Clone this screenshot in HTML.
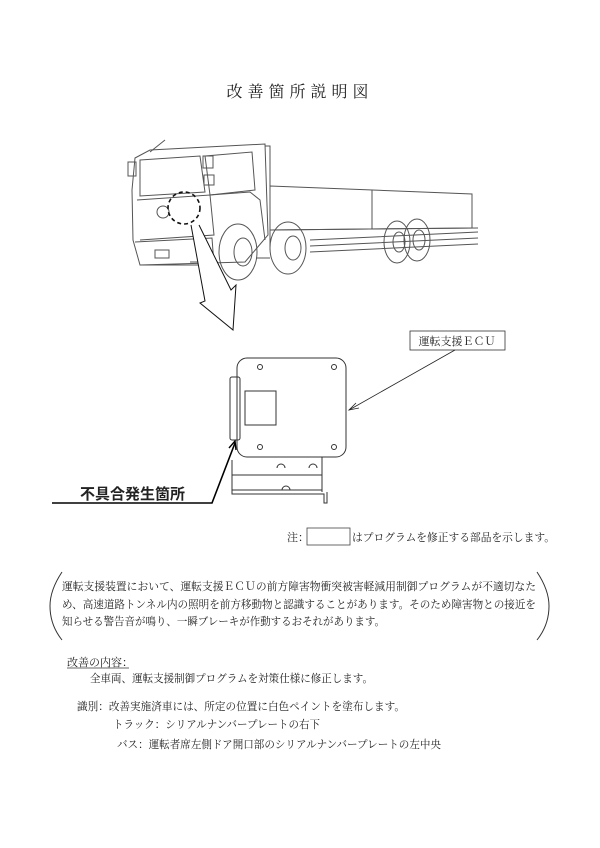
<!DOCTYPE html>
<html><head><meta charset="utf-8"><style>
html,body{margin:0;padding:0;background:#fff}
svg{display:block}
text{font-family:"Liberation Serif","Noto Serif CJK SC",serif;fill:#222}
</style></head><body>
<svg width="600" height="848" viewBox="0 0 600 848" xmlns="http://www.w3.org/2000/svg">
<text x="300" y="97" font-size="16" text-anchor="middle" letter-spacing="5">改善箇所説明図</text>

<!-- truck -->
<g fill="none" stroke="#555" stroke-width="1">
 <path d="M135 158 L150 150 L265 144 L268 235 L245 262 L140 265 L133 240 L132 190 Z"/>
 <path d="M140 160 L200 156 L205 192 L140 196 Z"/>
 <path d="M205 156 L252 152 L255 190 L210 195 Z"/>
 <path d="M265 146 L270 146 L270 250"/>
 <path d="M137 200 L210 195 L214 235 L140 240"/>
 <circle cx="163" cy="212" r="6"/>
 <path d="M135 242 L212 238 L214 265 L140 265"/>
 <rect x="155" y="250" width="14" height="8"/>
 <rect x="128" y="162" width="8" height="14"/>
 <rect x="203" y="156" width="10" height="12"/>
 <rect x="204" y="175" width="10" height="10"/>
 <path d="M150 152 L165 140"/>
 <path d="M210 195 L250 192 L260 200 L265 240"/>
 <path d="M270 186 L472 194 L472 228 L270 230 Z"/>
 <path d="M372 190 L372 229"/>
 <path d="M270 230 L478 228"/>
 <path d="M310 240 L478 232 M310 246 L478 238 M310 252 L478 244"/>
 <ellipse cx="238" cy="252" rx="19" ry="28"/><ellipse cx="243" cy="252" rx="9" ry="14"/>
 <ellipse cx="288" cy="248" rx="18" ry="26"/><ellipse cx="293" cy="248" rx="8" ry="12"/>
 <ellipse cx="397" cy="242" rx="13" ry="21"/><ellipse cx="399" cy="242" rx="6" ry="10"/>
 <ellipse cx="417" cy="240" rx="13" ry="21"/><ellipse cx="419" cy="240" rx="6" ry="10"/>
 <path d="M190 262 L218 262 M256 258 L270 258"/>
</g>
<circle cx="184" cy="208" r="16" fill="none" stroke="#111" stroke-width="1.6" stroke-dasharray="4 3"/>
<path d="M191 225 L205 301 L200 303 L233 330 L236 285 L231 290 L199 225" fill="#fff" stroke="#111" stroke-width="1"/>

<rect x="410" y="331" width="95" height="19" fill="#fff" stroke="#333" stroke-width="0.8"/>
<text x="457" y="345" font-size="11" text-anchor="middle">運転支援ＥＣＵ</text>
<line x1="455" y1="350" x2="349" y2="410" stroke="#222" stroke-width="0.8"/>
<path d="M356 403 L349 410 L359 408" fill="none" stroke="#222" stroke-width="0.8"/>

<g fill="none" stroke="#333" stroke-width="1">
 <rect x="237" y="358" width="109" height="99" rx="10"/>
 <rect x="230" y="377" width="10" height="63" rx="2"/>
 <rect x="245" y="391" width="31" height="34"/>
 <circle cx="260" cy="367" r="2.5"/><circle cx="334" cy="367" r="2.5"/>
 <circle cx="260" cy="447" r="2.5"/><circle cx="334" cy="447" r="2.5"/>
 <path d="M232 460 L232 494 L324 494 L324 503 L327 503 L327 492"/>
 <path d="M232 475 L322 475 M322 457 L322 492 M232 490 L322 490"/>
 <path d="M277 468 a4 4 0 0 1 8 0 M309 468 a4 4 0 0 1 8 0 M282 490 a4 4 0 0 1 8 0"/>
</g>
<text x="80" y="499" font-size="15" font-weight="bold" style="font-family:'Liberation Sans','Noto Sans CJK JP',sans-serif" fill="#000">不具合発生箇所</text>
<path d="M52 503 L212 503 L235 443" fill="none" stroke="#000" stroke-width="1.6"/>
<path d="M229 448 L235 441 L236 450" fill="none" stroke="#000" stroke-width="1.4"/>

<text x="287" y="541" font-size="11">注：</text>
<rect x="307" y="528" width="43" height="17" fill="none" stroke="#444" stroke-width="0.8"/>
<text x="352" y="541" font-size="11" textLength="203" lengthAdjust="spacingAndGlyphs">はプログラムを修正する部品を示します。</text>

<path d="M62 572 Q50 590 50 606 Q50 625 62 640" fill="none" stroke="#333" stroke-width="1"/>
<path d="M537 572 Q549 590 549 606 Q549 625 537 640" fill="none" stroke="#333" stroke-width="1"/>
<g font-size="11">
<text x="62" y="590" textLength="474" lengthAdjust="spacingAndGlyphs">運転支援装置において、運転支援ＥＣＵの前方障害物衝突被害軽減用制御プログラムが不適切なた</text>
<text x="62" y="608" textLength="474" lengthAdjust="spacingAndGlyphs">め、高速道路トンネル内の照明を前方移動物と認識することがあります。そのため障害物との接近を</text>
<text x="62" y="625" textLength="323" lengthAdjust="spacingAndGlyphs">知らせる警告音が鳴り、一瞬ブレーキが作動するおそれがあります。</text>
</g>
<g font-size="11">
<text x="67" y="666">改善の内容：</text>
<line x1="67" y1="668" x2="129" y2="668" stroke="#333" stroke-width="0.7"/>
<text x="90" y="682" textLength="283" lengthAdjust="spacingAndGlyphs">全車両、運転支援制御プログラムを対策仕様に修正します。</text>
<text x="77" y="710" textLength="328" lengthAdjust="spacingAndGlyphs">識別：改善実施済車には、所定の位置に白色ペイントを塗布します。</text>
<text x="113" y="728" textLength="207" lengthAdjust="spacingAndGlyphs">トラック：シリアルナンバープレートの右下</text>
<text x="117" y="748" textLength="324" lengthAdjust="spacingAndGlyphs">バス：運転者席左側ドア開口部のシリアルナンバープレートの左中央</text>
</g>
</svg>
</body></html>
